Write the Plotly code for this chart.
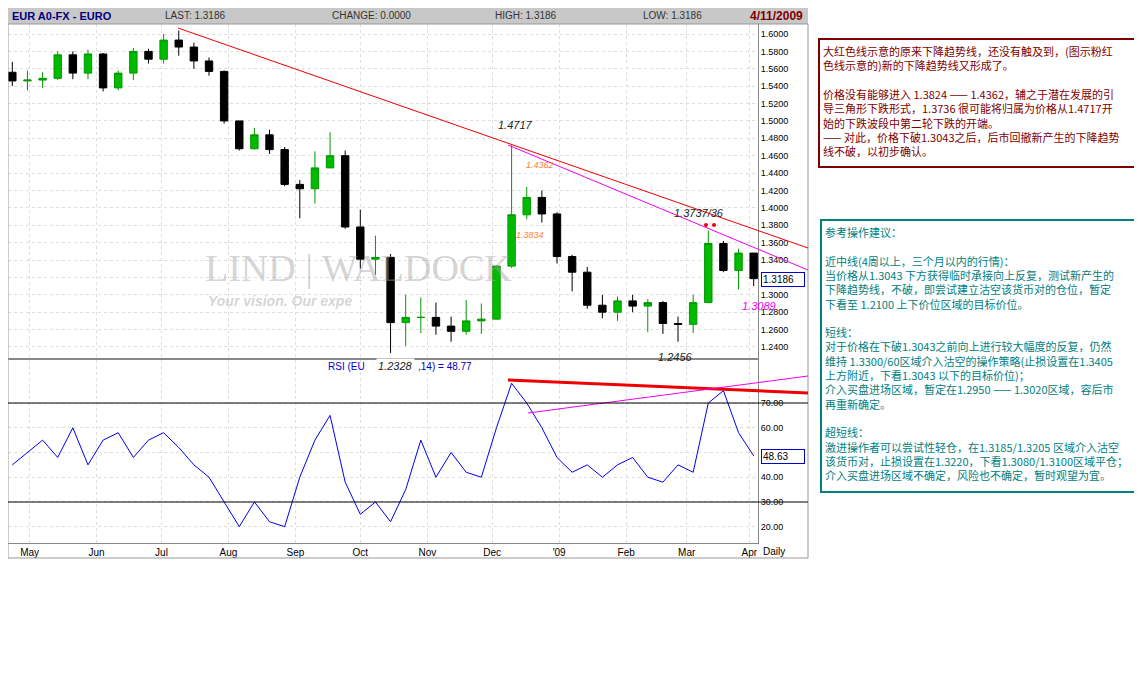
import pandas as pd
import plotly.graph_objects as go

# weekly bars, EUR/USD, May 2008 - Apr 2009
dates = pd.date_range("2008-05-02", periods=50, freq="W-FRI")
close = [1.546, 1.547, 1.549, 1.576, 1.555, 1.577, 1.538, 1.555, 1.580, 1.571,
         1.593, 1.585, 1.569, 1.557, 1.500, 1.468, 1.484, 1.467, 1.427, 1.422,
         1.446, 1.460, 1.378, 1.341, 1.343, 1.268, 1.274, 1.274, 1.264, 1.258,
         1.270, 1.272, 1.333, 1.392, 1.412, 1.393, 1.344, 1.326, 1.288, 1.280,
         1.293, 1.287, 1.291, 1.267, 1.266, 1.291, 1.359, 1.328, 1.348, 1.3186]
high = [1.568, 1.558, 1.556, 1.580, 1.580, 1.582, 1.578, 1.558, 1.584, 1.583,
        1.600, 1.604, 1.590, 1.573, 1.558, 1.500, 1.492, 1.490, 1.470, 1.432,
        1.465, 1.487, 1.466, 1.398, 1.368, 1.347, 1.300, 1.297, 1.291, 1.275,
        1.294, 1.290, 1.334, 1.472, 1.424, 1.420, 1.395, 1.346, 1.332, 1.300,
        1.298, 1.300, 1.295, 1.293, 1.275, 1.300, 1.374, 1.362, 1.353, 1.345]
low = [1.540, 1.535, 1.538, 1.547, 1.548, 1.548, 1.534, 1.535, 1.547, 1.566,
       1.566, 1.575, 1.560, 1.552, 1.497, 1.466, 1.467, 1.462, 1.425, 1.388,
       1.405, 1.447, 1.376, 1.330, 1.323, 1.233, 1.241, 1.256, 1.254, 1.246,
       1.254, 1.255, 1.273, 1.331, 1.387, 1.383, 1.336, 1.304, 1.284, 1.273,
       1.270, 1.280, 1.257, 1.255, 1.246, 1.256, 1.292, 1.326, 1.306, 1.310]
open_ = [1.556] + close[:-1]
rsi = [45, 50, 55, 48, 60, 45, 55, 58, 48, 55,
       58, 52, 45, 40, 30, 20, 30, 22, 20, 40,
       55, 65, 38, 25, 30, 22, 35, 55, 40, 50,
       42, 40, 60, 78, 70, 60, 48, 42, 45, 40,
       45, 48, 40, 38, 45, 42, 70, 75, 58, 48.63]

price_ticks = [1.24 + 0.02 * i for i in range(19)]
rsi_ticks = [20, 30, 40, 50, 60, 70]
month_ticks = ["2008-05-10", "2008-06-10", "2008-07-10", "2008-08-10", "2008-09-10",
               "2008-10-10", "2008-11-10", "2008-12-10", "2009-01-10", "2009-02-10",
               "2009-03-10", "2009-04-08"]
month_text = ["May", "Jun", "Jul", "Aug", "Sep", "Oct", "Nov", "Dec", "'09", "Feb", "Mar", "Apr"]

W, H = 1142, 679
def px(x):
    return x / W
def py(y):
    return 1 - y / H

fig = go.Figure()
fig.add_trace(go.Candlestick(
    x=dates, open=open_, high=high, low=low, close=close,
    increasing=dict(line=dict(color="#009900", width=1), fillcolor="#00bb00"),
    decreasing=dict(line=dict(color="#000000", width=1), fillcolor="#000000"),
    whiskerwidth=0, xaxis="x", yaxis="y", showlegend=False))
fig.add_trace(go.Scatter(x=dates, y=rsi, mode="lines", line=dict(color="#0000ee", width=1),
                         xaxis="x2", yaxis="y2", showlegend=False))

xr = ["2008-04-30", "2009-04-12"]
axis_common = dict(showline=True, linecolor="#888", mirror=True, zeroline=False)
fig.update_layout(
    width=W, height=H, margin=dict(l=0, r=0, t=0, b=0),
    paper_bgcolor="white", plot_bgcolor="white",
    font=dict(family="Liberation Sans, Arial", size=10, color="black"),
    xaxis=dict(domain=[0, px(750)], range=xr, rangeslider=dict(visible=False),
               showticklabels=False, anchor="y", showgrid=True, gridcolor="#ddd",
               griddash="dot", tickvals=month_ticks, **axis_common),
    yaxis=dict(domain=[py(350), py(16)], range=[1.2273, 1.6115], side="right",
               tickvals=price_ticks, tickformat=".4f", showgrid=True, gridcolor="#ddd",
               griddash="dot", tickfont=dict(size=9), anchor="x", **axis_common),
    xaxis2=dict(domain=[0, px(750)], range=xr, tickvals=month_ticks, ticktext=month_text,
                anchor="y2", showgrid=True, gridcolor="#ddd", griddash="dot",
                tickfont=dict(size=10), ticks="", **axis_common),
    yaxis2=dict(domain=[py(535), py(352)], range=[13.4, 87.4], side="right",
                tickvals=rsi_ticks, tickformat=".2f", showgrid=True, gridcolor="#ddd",
                griddash="dot", tickfont=dict(size=9), anchor="x2", **axis_common),
)

shapes = [
    # header bar
    dict(type="rect", xref="paper", yref="paper", x0=0, x1=px(800), y0=py(16), y1=1,
         fillcolor="#c8c8c8", line=dict(width=0)),
    dict(type="rect", xref="paper", yref="paper", x0=0, x1=px(800), y0=py(550), y1=py(16),
         fillcolor="rgba(0,0,0,0)", line=dict(color="#999", width=1)),
    # trend lines
    dict(type="line", xref="paper", yref="paper", x0=px(170), y0=py(20), x1=px(800), y1=py(240),
         line=dict(color="#ee0000", width=1)),
    dict(type="line", xref="paper", yref="paper", x0=px(500), y0=py(137), x1=px(800), y1=py(262),
         line=dict(color="#ee00ee", width=1)),
    dict(type="line", xref="paper", yref="paper", x0=px(500), y0=py(372), x1=px(800), y1=py(385),
         line=dict(color="#ee0000", width=3)),
    dict(type="line", xref="paper", yref="paper", x0=px(520), y0=py(405), x1=px(800), y1=py(368),
         line=dict(color="#ee00ee", width=1)),
    dict(type="line", xref="paper", yref="paper", x0=0, y0=py(395), x1=px(800), y1=py(395),
         line=dict(color="black", width=1)),
    dict(type="line", xref="paper", yref="paper", x0=0, y0=py(494), x1=px(800), y1=py(494),
         line=dict(color="black", width=1)),
    dict(type="circle", xref="paper", yref="paper", x0=px(696), y0=py(219), x1=px(700), y1=py(215),
         fillcolor="#ee0000", line=dict(width=0)),
    dict(type="circle", xref="paper", yref="paper", x0=px(704), y0=py(219), x1=px(708), y1=py(215),
         fillcolor="#ee0000", line=dict(width=0)),
]
fig.update_layout(shapes=shapes)

def note(x, y, text, **kw):
    d = dict(xref="paper", yref="paper", x=px(x), y=py(y), text=text, showarrow=False,
             xanchor="left", yanchor="middle")
    d.update(kw)
    fig.add_annotation(**d)

hdr = dict(size=10, color="#333")
note(2, 8, "<b>EUR A0-FX - EURO</b>", font=dict(size=11, color="#000080"))
note(155, 8, "LAST: 1.3186", font=hdr)
note(322, 8, "CHANGE: 0.0000", font=hdr)
note(485, 8, "HIGH: 1.3186", font=hdr)
note(633, 8, "LOW: 1.3186", font=hdr)
note(740, 8, "<b>4/11/2009</b>", font=dict(size=12, color="#800000"))

note(195, 260, "LIND | WALDOCK", font=dict(family="Liberation Serif", size=38, color="rgba(160,160,160,0.45)"))
note(198, 293, "<i><b>Your vision. Our expe</b></i>", font=dict(size=14, color="rgba(160,160,160,0.45)"))

note(488, 117, "<i>1.4717</i>", font=dict(size=11, color="#222"))
note(516, 157, "<i>1.4362</i>", font=dict(size=9, color="#ff8030"))
note(506, 227, "<i>1.3834</i>", font=dict(size=9, color="#ff8030"))
note(664, 205, "<i>1.3737/36</i>", font=dict(size=11, color="#222"))
note(732, 298, "<i>1.3089</i>", font=dict(size=11, color="#ee00ee"))
note(648, 349, "<i>1.2456</i>", font=dict(size=11, color="#222"))
note(368, 358, "<i>1.2328</i>", font=dict(size=11, color="#222"), bgcolor="white")
note(318, 358, "RSI (EU", font=dict(size=10, color="#0000cc"))
note(408, 358, ",14) = 48.77", font=dict(size=10, color="#0000cc"))
note(753, 271, "1.3186", font=dict(size=10, color="black"), bgcolor="white",
     bordercolor="#0000cc", borderwidth=1, width=40, align="left")
note(753, 448, "48.63", font=dict(size=10, color="black"), bgcolor="white",
     bordercolor="#0000cc", borderwidth=1, width=40, align="left")
note(753, 543, "Daily", font=dict(size=10))

cjk = "Noto Sans CJK SC"
box1 = ("大红色线示意的原来下降趋势线，还没有触及到，(图示粉红<br>色线示意的)新的下降趋势线又形成了。<br><br>"
        "价格没有能够进入 1.3824 —— 1.4362，辅之于潜在发展的引<br>导三角形下跌形式，1.3736 很可能将归属为价格从1.4717开<br>"
        "始的下跌波段中第二轮下跌的开端。<br>—— 对此，价格下破1.3043之后，后市回撤新产生的下降趋势<br>线不破，以初步确认。")
fig.add_annotation(xref="paper", yref="paper", x=px(810), y=py(30), xanchor="left", yanchor="top",
                   text=box1, showarrow=False, align="left", width=322, height=120,
                   valign="top", bordercolor="#800000", borderwidth=2, borderpad=3,
                   font=dict(family=cjk, size=11, color="#800000"))
box2 = ("参考操作建议：<br><br>近中线(4周以上，三个月以内的行情)：<br>当价格从1.3043 下方获得临时承接向上反复，测试新产生的<br>"
        "下降趋势线，不破，即尝试建立沽空该货币对的仓位，暂定<br>下看至 1.2100 上下价位区域的目标价位。<br><br>"
        "短线：<br>对于价格在下破1.3043之前向上进行较大幅度的反复，仍然<br>维持 1.3300/60区域介入沽空的操作策略(止损设置在1.3405<br>"
        "上方附近，下看1.3043 以下的目标价位)；<br>介入买盘进场区域，暂定在1.2950 —— 1.3020区域，容后市<br>再重新确定。<br><br>"
        "超短线：<br>激进操作者可以尝试性轻仓，在1.3185/1.3205 区域介入沽空<br>该货币对，止损设置在1.3220，下看1.3080/1.3100区域平仓；<br>"
        "介入买盘进场区域不确定，风险也不确定，暂时观望为宜。")
fig.add_annotation(xref="paper", yref="paper", x=px(812), y=py(211), xanchor="left", yanchor="top",
                   text=box2, showarrow=False, align="left", width=320, height=264,
                   valign="top", bordercolor="#008080", borderwidth=2, borderpad=3,
                   font=dict(family=cjk, size=11, color="#008080"))

fig.write_html("out.html")
